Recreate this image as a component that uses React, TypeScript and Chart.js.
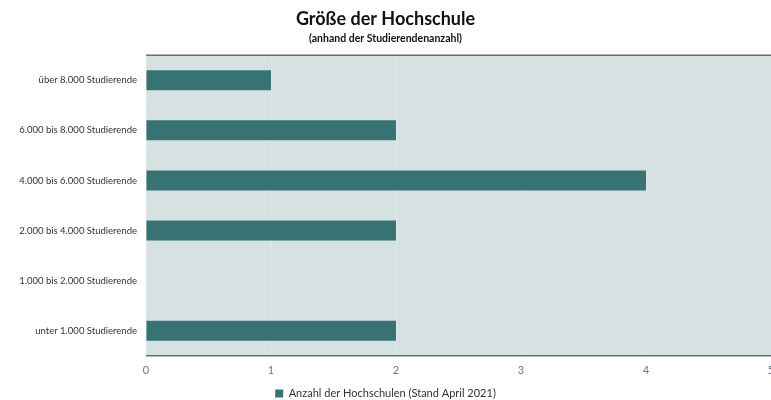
import React, { useEffect, useRef } from "react";
import { Chart, registerables } from "chart.js";

Chart.register(...registerables);

const categories = [
  "über 8.000 Studierende",
  "6.000 bis 8.000 Studierende",
  "4.000 bis 6.000 Studierende",
  "2.000 bis 4.000 Studierende",
  "1.000 bis 2.000 Studierende",
  "unter 1.000 Studierende",
];
const values = [1, 2, 4, 2, 0, 2];
const seriesLabel = "Anzahl der Hochschulen (Stand April 2021)";
const titleText = "Größe der Hochschule";
const subtitleText = "(anhand der Studierendenanzahl)";
const xMin = 0;
const xMax = 5;

const FONT = "Lato, 'Open Sans', sans-serif";
const BAR = "#377373";
const PLOT_BG = "#d6e2e2";

const plotPlugin = {
  id: "plotDecor",
  beforeDraw(chart: any) {
    const { ctx, chartArea } = chart;
    ctx.save();
    ctx.fillStyle = PLOT_BG;
    ctx.fillRect(chartArea.left, chartArea.top, chartArea.right - chartArea.left, chartArea.bottom - chartArea.top);
    ctx.restore();
  },
  afterDraw(chart: any) {
    const { ctx, chartArea } = chart;
    ctx.save();
    ctx.strokeStyle = "#6b6b6b";
    ctx.lineWidth = 1.5;
    ctx.beginPath();
    ctx.moveTo(chartArea.left, chartArea.top);
    ctx.lineTo(chartArea.right, chartArea.top);
    ctx.moveTo(chartArea.left, chartArea.bottom);
    ctx.lineTo(chartArea.right, chartArea.bottom);
    ctx.stroke();
    ctx.restore();
  },
};

export default function App() {
  const ref = useRef<HTMLCanvasElement | null>(null);
  useEffect(() => {
    if (!ref.current) return;
    const chart = new Chart(ref.current, {
      type: "bar",
      data: {
        labels: categories,
        datasets: [
          {
            label: seriesLabel,
            data: values,
            backgroundColor: BAR,
            borderWidth: 0,
            categoryPercentage: 1,
            barPercentage: 0.4,
          },
        ],
      },
      plugins: [plotPlugin],
      options: {
        indexAxis: "y",
        responsive: false,
        animation: false,
        layout: { padding: { left: 0, right: 29, top: 0, bottom: 0 } },
        scales: {
          x: {
            min: xMin,
            max: xMax,
            ticks: { stepSize: 1, color: "#6a7590", font: { family: FONT, size: 11 }, padding: 8 },
            grid: { color: "rgba(255,255,255,0.15)", drawTicks: false },
            border: { display: false },
          },
          y: {
            grid: { display: false, drawTicks: false },
            border: { display: false },
            ticks: { color: "#333333", font: { family: FONT, size: 9.5 }, padding: 9 },
            afterFit(scale: any) {
              scale.width = 146;
            },
          },
        },
        plugins: {
          title: {
            display: true,
            text: titleText,
            color: "#111",
            font: { family: FONT, size: 18, weight: "bold" },
            padding: { top: 8, bottom: 3 },
          },
          subtitle: {
            display: true,
            text: subtitleText,
            color: "#111",
            font: { family: FONT, size: 10.5, weight: "bold" },
            padding: { top: 0, bottom: 10 },
          },
          legend: {
            position: "bottom",
            labels: {
              boxWidth: 8,
              boxHeight: 8,
              color: "#333",
              font: { family: FONT, size: 11 },
              padding: 3,
            },
          },
          tooltip: { enabled: false },
        },
      },
    } as any);
    return () => chart.destroy();
  }, []);
  return (
    <div style={{ position: "absolute", left: 0, top: 0, width: 771, height: 400, overflow: "hidden", background: "#fff" }}>
      <canvas ref={ref} width={800} height={409} style={{ width: 800, height: 409, display: "block" }} />
    </div>
  );
}
